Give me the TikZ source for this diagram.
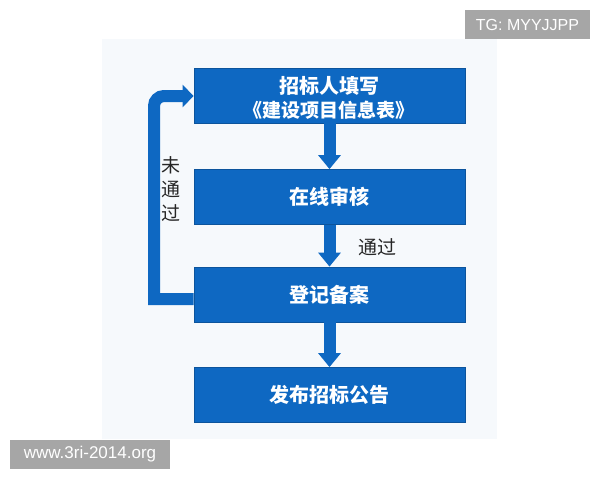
\documentclass[tikz,border=0pt]{standalone}
\usepackage{fontspec}
\setmainfont{Liberation Sans}
\newfontfamily\cjk{Noto Sans CJK SC}
\usetikzlibrary{arrows.meta,calc}
\definecolor{boxblue}{RGB}{14,104,194}
\definecolor{boxedge}{RGB}{12,84,156}
\definecolor{bgpale}{RGB}{246,249,252}
\definecolor{wmgray}{RGB}{166,166,166}
\begin{document}
\begin{tikzpicture}[x=1pt,y=-1pt,
 procbox/.style={fill=boxblue, draw=boxedge, line width=0.8pt, minimum width=271pt, minimum height=55pt, inner sep=0pt, text=white, font=\cjk\bfseries\fontsize{20}{25}\selectfont, align=center},
 flowarrow/.style={draw=boxblue, line width=12pt, -{Triangle[width=22pt,length=14pt]}},
 looparrow/.style={draw=boxblue, line width=12pt, -{Triangle[width=22pt,length=11pt]}},
 lbl/.style={text=black!85, font=\cjk\fontsize{19}{23}\selectfont, inner sep=0pt},
 wm/.style={fill=wmgray, text=white, inner sep=0pt, font=\fontsize{16}{16}\selectfont}]
\useasboundingbox (0,0) rectangle (600,480);
\fill[white] (0,0) rectangle (600,480);
\fill[bgpale] (102,39) rectangle (497,439);

\coordinate (lb) at (154,299);
\coordinate (lt) at (154,96);

\node[procbox] (b1) at (329.5,95.5) {};
\node[text=white, font=\cjk\bfseries\fontsize{20}{25}\selectfont, inner sep=0pt] (b1a) at (329,86) {招标人填写};
\node[text=white, font=\cjk\bfseries\fontsize{19}{25}\selectfont, inner sep=0pt] (b1b) at (329,110) {《建设项目信息表》};
\node[procbox] (b2) at (329.5,197) {在线审核};
\node[procbox] (b3) at (329.5,294.5) {登记备案};
\node[procbox] (b4) at (329.5,395) {发布招标公告};

\draw[flowarrow] (b1.south) -- (b2.north);
\draw[flowarrow] (b2.south) -- (b3.north);
\draw[flowarrow] (b3.south) -- (b4.north);
\draw[looparrow] (b3.west |- lb) -- (lb) [rounded corners=10pt] -- (lt) -- (b1.west |- lt);

\node[lbl] (pass) at (377,247) {通过};
\node[lbl, align=center, font=\cjk\fontsize{19}{24}\selectfont] (fail) at (171,189) {未\\通\\过};

\node[wm, minimum width=125pt, minimum height=29pt] (tg) at (527.5,24.5) {TG: MYYJJPP};
\node[wm, minimum width=160pt, minimum height=29pt, font=\fontsize{17}{17}\selectfont] (site) at (90,454.5) {www.3ri-2014.org};
\end{tikzpicture}
\end{document}
